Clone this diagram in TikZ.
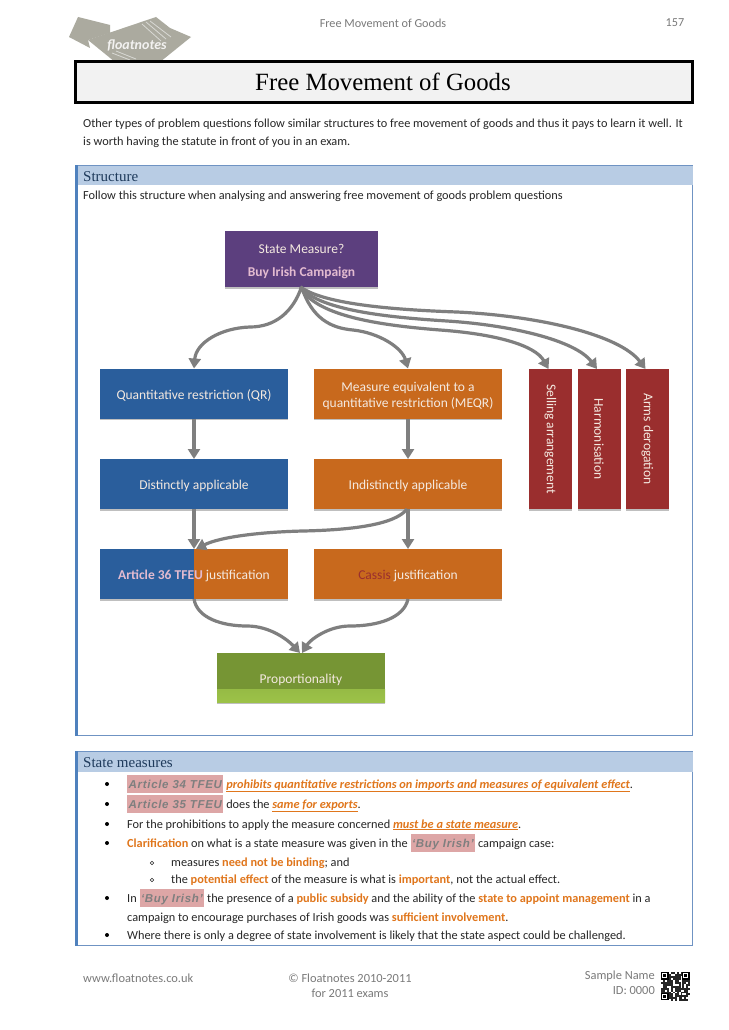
\documentclass[tikz,border=0pt]{standalone}
\usepackage{fontspec}
\usepackage{graphicx}
\setmainfont{Carlito}
\newfontfamily\serifhead{Liberation Serif}
\newfontfamily\arialf[LetterSpace=6]{Liberation Sans}
\usetikzlibrary{arrows.meta,shadows}
\definecolor{panelblue}{HTML}{B8CCE4}
\definecolor{panelline}{HTML}{6F93C3}
\definecolor{panelbar}{HTML}{4F81BD}
\definecolor{headtext}{HTML}{1F3B5C}
\definecolor{boxblue}{HTML}{2A5E9C}
\definecolor{boxorange}{HTML}{C8691D}
\definecolor{boxpurple}{HTML}{5C3F7E}
\definecolor{boxred}{HTML}{9A2E2E}
\definecolor{boxgreen}{HTML}{769534}
\definecolor{boxgreenl}{HTML}{9CC248}
\definecolor{palet}{HTML}{F4E9E0}
\definecolor{pinkt}{HTML}{E3BBD0}
\definecolor{arrowg}{HTML}{7F7F7F}
\definecolor{hlorange}{HTML}{E0761C}
\definecolor{hlpink}{HTML}{DDA6A6}
\definecolor{logog}{HTML}{ABAA9F}
\definecolor{footg}{HTML}{7A7A7A}
\definecolor{bodyt}{HTML}{262626}
\newcommand{\bsize}{\fontsize{12.3}{14}\selectfont}
\newcommand{\nsize}{\fontsize{13.5}{15.2}\selectfont}
\newcommand{\hlt}[1]{{\setlength{\fboxsep}{1.5pt}\colorbox{hlpink}{\rule[-3.5pt]{0pt}{15pt}\arialf\bfseries\itshape\fontsize{11.5}{12}\selectfont\textcolor{arrowg}{#1}}}}
\newcommand{\hlo}[1]{\textcolor{hlorange}{\bfseries #1}}
\newcommand{\hlu}[1]{\textcolor{hlorange}{\bfseries\itshape\underline{#1}}}
\newcommand{\lowerstrut}{\rule{0pt}{14pt}}
\tikzset{
  fbox/.style={inner sep=0pt,outer sep=0pt,align=center,text=palet,font=\nsize,
    drop shadow={opacity=.25,shadow xshift=0pt,shadow yshift=-1.5pt,fill=black}},
  widebox/.style={fbox,minimum width=188pt,minimum height=50pt},
  redbox/.style={fbox,fill=boxred,minimum width=43pt,minimum height=140pt},
  flow/.style={draw=arrowg,line width=3.2pt,-{Triangle[width=12pt,length=10pt]}},
  line/.style={anchor=base west,inner sep=0pt,font=\bsize,text=bodyt},
  foot/.style={inner sep=0pt,font=\fontsize{12.4}{14}\selectfont,text=footg},
  bul/.style={circle,fill=black,inner sep=0pt,minimum size=4pt},
  subbul/.style={circle,draw=bodyt,line width=.6pt,inner sep=0pt,minimum size=3.5pt},
  panelhead/.style={anchor=base west,inner sep=0pt,text=headtext,font=\serifhead\fontsize{15}{17}\selectfont}
}
\begin{document}
\begin{tikzpicture}[x=1pt,y=-1pt]
\useasboundingbox (0,0) rectangle (728,1030);
\fill[white] (0,0) rectangle (728,1030);
% logo
\fill[logog] (78,17) -- (110,25) -- (110,33) -- (88,40) -- (90,48) -- (69,37) -- cycle;
\fill[logog] (88,40) -- (156,17) -- (170,28) -- (191,37) -- (160,62) -- (115,62) -- cycle;
\draw[white!55!logog,line width=.8pt] (150,21) -- (171,37) (146,22) -- (166,39) (142,24) -- (161,41);
\draw[white!55!logog,line width=.8pt] (112,53) -- (130,60) (116,51) -- (136,59);
\node[inner sep=0pt,text=white!85!logog,font=\bfseries\itshape\fontsize{14}{15}\selectfont] (logotext) at (137,45) {floatnotes};
% header
\node[inner sep=0pt,font=\fontsize{12.2}{14}\selectfont,text=footg] (runhead) at (383,23) {Free Movement of Goods};
\node[inner sep=0pt,font=\fontsize{12.2}{14}\selectfont,text=footg] (pageno) at (675,23) {157};
\draw[black,line width=3pt,fill=black!5] (75.5,62) rectangle (692.5,103);
\node[inner sep=0pt,font=\serifhead\fontsize{24.8}{28}\selectfont,text=black] (title) at (383,81.5) {Free Movement of Goods};
\node[line] (intro1) at (83,128) {Other types of problem questions follow similar structures to free movement of goods and thus it pays to learn it well. It};
\node[line] (intro2) at (83,146) {is worth having the statute in front of you in an exam.};
% structure panel
\draw[panelline,line width=.8pt,fill=white] (76,165) rectangle (692.5,735);
\fill[panelblue] (76,165.5) rectangle (692.5,185);
\fill[panelbar] (75,165) rectangle (78,735.5);
\node[panelhead] (structhead) at (83,181) {Structure};
\node[line] (structsub) at (83,199) {Follow this structure when analysing and answering free movement of goods problem questions};
% flow boxes
\node[fbox,fill=boxpurple,minimum width=153pt,minimum height=56pt] (state) at (301.5,259) {\lowerstrut State Measure?\\[8.5pt]\textcolor{pinkt}{\bfseries Buy Irish Campaign}};
\node[widebox,fill=boxblue] (qr) at (194,393.5) {\lowerstrut Quantitative restriction (QR)};
\node[widebox,fill=boxorange] (meqr) at (408,393.5) {\lowerstrut Measure equivalent to a\\[0.8pt]quantitative restriction (MEQR)};
\node[widebox,fill=boxblue] (dist) at (194,484) {\lowerstrut Distinctly applicable};
\node[widebox,fill=boxorange] (indist) at (408,484) {\lowerstrut Indistinctly applicable};
\node[widebox,fill=boxblue,path picture={\fill[boxorange] (path picture bounding box.north) rectangle (path picture bounding box.south east);}] (art) at (194,574) {\lowerstrut\textcolor{pinkt}{\bfseries Article 36 TFEU} justification};
\node[widebox,fill=boxorange] (cassis) at (408,574) {\lowerstrut\textcolor{boxred}{Cassis} justification};
\node[fbox,minimum width=168pt,minimum height=49pt,fill=boxgreen,path picture={\shade[top color=boxgreen,bottom color=boxgreenl,middle color=boxgreenl!70!boxgreen] ([yshift=13pt]path picture bounding box.south west) rectangle (path picture bounding box.south east);}] (prop) at (301,677.5) {\lowerstrut Proportionality};
\node[redbox] (sell) at (550.5,439) {\rotatebox{-90}{Selling arrangement}};
\node[redbox] (harm) at (599,439) {\rotatebox{-90}{Harmonisation}};
\node[redbox] (arms) at (647.5,439) {\rotatebox{-90}{Arms derogation}};
% connectors
\draw[flow] (state.south) .. controls (293,312) and (275,327) .. (250,327) .. controls (220,328) and (196,343) .. (qr.north);
\draw[flow] (state.south) .. controls (312,318) and (330,328) .. (353,330) .. controls (380,333) and (402,348) .. (meqr.north);
\draw[flow] ([xshift=-1pt]state.south) .. controls (316,318) and (390,326) .. (440,330) .. controls (495,334) and (535,345) .. ([xshift=-2pt]sell.north);
\draw[flow] ([xshift=-1pt]state.south) .. controls (320,312) and (400,318) .. (447,321) .. controls (510,325) and (575,340) .. ([xshift=-2pt]harm.north);
\draw[flow] ([xshift=-1pt]state.south) .. controls (325,305) and (400,310) .. (457,312) .. controls (540,316) and (620,335) .. ([xshift=-2pt]arms.north);
\draw[flow] (qr.south) -- (dist.north);
\draw[flow] (meqr.south) -- (indist.north);
\draw[flow] (dist.south) -- (art.north);
\draw[flow] (indist.south) -- (cassis.north);
\draw[flow] ([xshift=-1pt]indist.south) .. controls (395,525) and (350,530) .. (303,531) .. controls (260,532) and (220,537) .. ([xshift=2pt]art.north);
\draw[flow] (art.south) .. controls (197,618) and (222,626) .. (247,626) .. controls (270,626) and (288,640) .. ([xshift=-1pt]prop.north);
\draw[flow] (cassis.south) .. controls (404,618) and (378,626) .. (350,626) .. controls (328,626) and (310,640) .. ([xshift=1pt]prop.north);
% state measures panel
\draw[panelline,line width=.8pt,fill=white] (76,751.5) rectangle (692.5,945);
\fill[panelblue] (76,752) rectangle (692.5,772);
\fill[panelbar] (75,751) rectangle (78,945.5);
\node[panelhead] (statehead) at (83,767.5) {State measures};
\node[bul] (b1) at (107,784) {};
\node[line] (l1) at (127,788) {\hlt{Article 34 TFEU} \hlu{prohibits quantitative restrictions on imports and measures of equivalent effect}.};
\node[bul] (b2) at (107,804) {};
\node[line] (l2) at (127,808) {\hlt{Article 35 TFEU} does the \hlu{same for exports}.};
\node[bul] (b3) at (107,824) {};
\node[line] (l3) at (127,828) {For the prohibitions to apply the measure concerned \hlu{must be a state measure}.};
\node[bul] (b4) at (107,843) {};
\node[line] (l4) at (127,847) {\hlo{Clarification} on what is a state measure was given in the \hlt{‘Buy Irish’} campaign case:};
\node[subbul] (s1) at (152,863) {};
\node[line] (l5) at (171,866) {measures \hlo{need not be binding}; and};
\node[subbul] (s2) at (152,880) {};
\node[line] (l6) at (171,883) {the \hlo{potential effect} of the measure is what is \hlo{important}, not the actual effect.};
\node[bul] (b5) at (107,898) {};
\node[line] (l7) at (127,902) {In \hlt{‘Buy Irish’} the presence of a \hlo{public subsidy} and the ability of the \hlo{state to appoint management} in a};
\node[line] (l8) at (127,921) {campaign to encourage purchases of Irish goods was \hlo{sufficient involvement}.};
\node[bul] (b6) at (107,935) {};
\node[line] (l9) at (127,939) {Where there is only a degree of state involvement is likely that the state aspect could be challenged.};
% footer
\node[foot,anchor=west] (f1) at (83,978) {www.floatnotes.co.uk};
\node[foot] (f2) at (350,978) {© Floatnotes 2010-2011};
\node[foot] (f3) at (350,993) {for 2011 exams};
\node[foot,anchor=east] (f4) at (655,976) {Sample Name};
\node[foot,anchor=east] (f5) at (655,991) {ID: 0000};
% QR code
\pgfmathsetseed{1234}
\foreach \i in {0,...,14}{\foreach \j in {0,...,14}{
  \pgfmathsetmacro{\v}{rnd}
  \pgfmathparse{\v<0.68?1:0}
  \ifnum\pgfmathresult=1 \fill[black!85] ({661+1.95*\i},{972+1.95*\j}) rectangle ++(1.95,1.95);\fi
}}
\foreach \qx/\qy in {661/972,682/972,661/992.5}{
  \fill[white] (\qx,\qy) rectangle ++(8,8);
  \fill[black] (\qx,\qy) rectangle ++(7.5,7.5);
  \fill[white] (\qx+1.3,\qy+1.3) rectangle ++(4.9,4.9);
  \fill[black] (\qx+2.4,\qy+2.4) rectangle ++(2.7,2.7);
}
\end{tikzpicture}
\end{document}
